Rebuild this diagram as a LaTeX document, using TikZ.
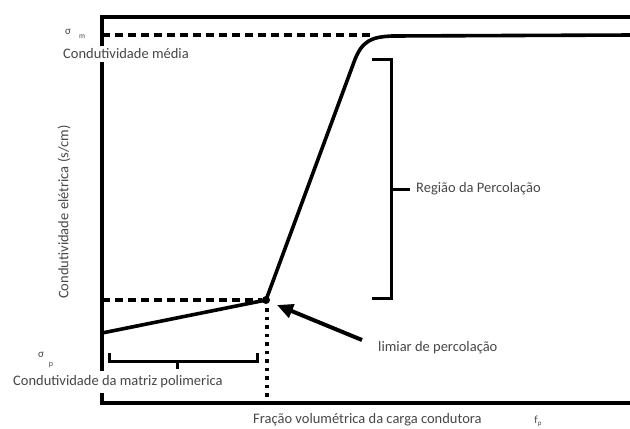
\documentclass[tikz,border=0pt]{standalone}
\usepackage{fontspec}
\setmainfont{Carlito}
\usetikzlibrary{arrows.meta}
\tikzset{
  lbl/.style={inner sep=0pt, text=black!72, font=\fontsize{14.5bp}{17bp}\selectfont},
  sml/.style={inner sep=0pt, text=black!72, font=\fontsize{11bp}{12bp}\selectfont},
  frame/.style={line width=4bp, line cap=rect},
  curve/.style={line width=3.6bp, line join=round},
  dashln/.style={line width=3.6bp, dash pattern=on 8bp off 5bp},
  dotln/.style={line width=3.6bp, dash pattern=on 3.5bp off 5bp},
  brack/.style={line width=3bp},
}
\begin{document}
\begin{tikzpicture}[x=1bp,y=-1bp]
\useasboundingbox (0,0) rectangle (630,428);
% frame / axes
\coordinate (tl) at (102,17);
\coordinate (tr) at (632,17);
\coordinate (bl) at (102,403);
\coordinate (br) at (632,403);
\draw[frame] (tr) -- (tl) -- (bl) -- (br);
% dashed sigma_m line
\coordinate (dm0) at (102,35);
\coordinate (dm1) at (372,35);
\draw[dashln] (dm0) -- (dm1);
% curve
\coordinate (c0) at (102,333);
\coordinate (pt) at (266,300);
\coordinate (c2) at (354,62);
\coordinate (c3) at (392,36);
\coordinate (c4) at (632,35);
\draw[curve] (c0) -- (pt) -- (c2) .. controls (362,40) and (372,37) .. (c3) -- (c4);
\node[circle, fill=black, inner sep=0pt, minimum size=8bp] (dot) at (pt) {};
% dashed horizontal at threshold
\coordinate (dh0) at (102,300);
\coordinate (dh1) at (262,300);
\draw[dashln] (dh0) -- (dh1);
% dotted vertical
\coordinate (dv0) at (267,308);
\coordinate (dv1) at (267,403);
\draw[dotln] (dv0) -- (dv1);
% arrow
\coordinate (at) at (362,340);
\coordinate (ah) at (277,305);
\draw[line width=4bp, -{Triangle[length=16bp,width=14bp]}] (at) -- (ah);
% bottom bracket
\coordinate (b1) at (109,353);
\coordinate (b2) at (109,361);
\coordinate (b3) at (257,361);
\coordinate (b4) at (257,353);
\coordinate (bm0) at (177,361);
\coordinate (bm1) at (177,369);
\draw[brack] (b1) -- (b2) -- (b3) -- (b4);
\draw[brack] (bm0) -- (bm1);
% percolation region bracket
\coordinate (r1) at (372,59);
\coordinate (r2) at (391,59);
\coordinate (r3) at (391,298);
\coordinate (r4) at (372,298);
\coordinate (rm0) at (391,189);
\coordinate (rm1) at (410,189);
\draw[brack] (r1) -- (r2) -- (r3) -- (r4);
\draw[brack] (rm0) -- (rm1);
% labels
\node[sml, anchor=center] (sm) at (68,32) {σ};
\node[sml, anchor=center, font=\fontsize{7.5bp}{8bp}\selectfont] (smsub) at (82,37) {m};
\node[lbl, anchor=west, fill=white, inner ysep=3bp, inner xsep=1bp] (cm) at (62,54) {Condutividade média};
\node[lbl, rotate=90] (yl) at (64,212) {Condutividade elétrica (s/cm)};
\node[lbl, anchor=west] (rp) at (416,189) {Região da Percolação};
\node[lbl, anchor=west] (lp) at (378,348) {limiar de percolação};
\node[sml, anchor=center] (sp) at (41,355) {σ};
\node[sml, anchor=center, font=\fontsize{8bp}{9bp}\selectfont] (spsub) at (51,365) {p};
\node[lbl, anchor=west, fill=white, inner ysep=5bp, inner xsep=1bp] (cp) at (12,382) {Condutividade da matriz polimerica};
\node[lbl, anchor=west] (xl) at (253,420) {Fração volumétrica da carga condutora};
\node[sml, anchor=center] (fp) at (538,421) {f\raisebox{-2bp}{\fontsize{7bp}{8bp}\selectfont p}};
\end{tikzpicture}
\end{document}
